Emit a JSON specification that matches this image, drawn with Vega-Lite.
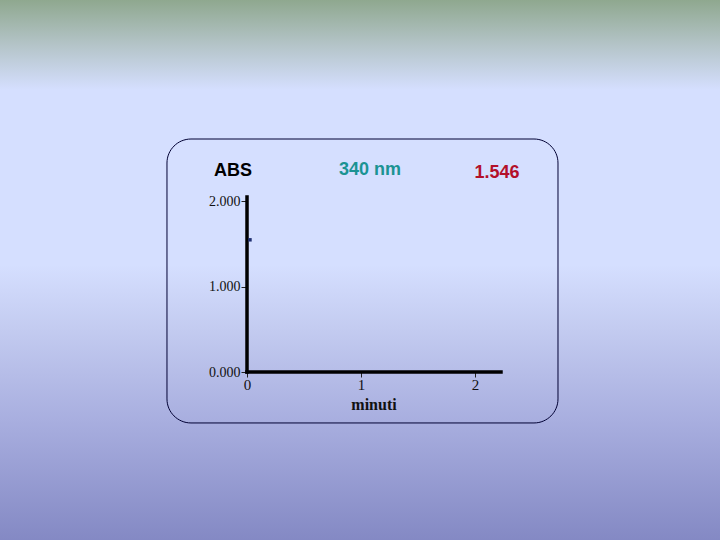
{
  "$schema": "https://vega.github.io/schema/vega-lite/v6.json",
  "width": 720,
  "height": 540,
  "padding": 0,
  "autosize": "none",
  "background": "#d5dfff",
  "config": {
    "view": {
      "stroke": null,
      "fill": {
        "gradient": "linear",
        "x1": 0, "y1": 0, "x2": 0, "y2": 1,
        "stops": [
          {"offset": 0, "color": "#8fa88f"},
          {"offset": 0.083, "color": "#b4c4c8"},
          {"offset": 0.167, "color": "#d5dfff"},
          {"offset": 0.49, "color": "#d5dfff"},
          {"offset": 0.61, "color": "#c3cbf0"},
          {"offset": 0.78, "color": "#a8aedf"},
          {"offset": 1, "color": "#8489c4"}
        ]
      }
    }
  },
  "layer": [
    {
      "data": {"values": [{"x": -0.702, "x2": 2.728, "y": 2.725, "y2": -0.596}]},
      "mark": {"type": "rect", "fill": null, "stroke": "#000033", "strokeWidth": 1, "cornerRadius": 24},
      "encoding": {
        "x": {"field": "x", "type": "quantitative", "scale": {"domain": [-2.1667, 4.1491], "nice": false, "zero": false},
          "axis": {"values": [0, 1, 2], "format": "d", "domain": false, "grid": false, "offset": -168, "tickSize": 5, "tickColor": "#222", "labelFont": "Liberation Serif", "labelFontSize": 15, "labelColor": "#111", "labelPadding": 0, "title": null}},
        "x2": {"field": "x2"},
        "y": {"field": "y", "type": "quantitative", "scale": {"domain": [-1.9649, 4.3509], "nice": false, "zero": false},
          "axis": {"values": [0, 1, 2], "format": ".3f", "domain": false, "grid": false, "offset": -247, "tickSize": 6, "tickColor": "#222", "labelFont": "Liberation Serif", "labelFontSize": 14, "labelColor": "#111", "labelPadding": 1, "title": null}},
        "y2": {"field": "y2"}
      }
    },
    {
      "data": {"values": [
        {"x": 0, "y": 0, "x2": 2.228, "y2": 0},
        {"x": 0, "y": 0, "x2": 0, "y2": 2.047}
      ]},
      "mark": {"type": "rule", "color": "#000000", "strokeWidth": 3.5, "strokeCap": "square"},
      "encoding": {
        "x": {"field": "x", "type": "quantitative"},
        "x2": {"field": "x2"},
        "y": {"field": "y", "type": "quantitative"},
        "y2": {"field": "y2"}
      }
    },
    {
      "data": {"values": [{"t": 0.026, "abs": 1.546}]},
      "mark": {"type": "square", "filled": true, "color": "#1f2f70", "size": 12, "opacity": 1},
      "encoding": {
        "x": {"field": "t", "type": "quantitative"},
        "y": {"field": "abs", "type": "quantitative"}
      }
    },
    {
      "data": {"values": [
        {"x": -0.123, "y": 2.351, "label": "ABS", "c": "ABS"},
        {"x": 1.079, "y": 2.363, "label": "340 nm", "c": "nm"},
        {"x": 2.193, "y": 2.327, "label": "1.546", "c": "val"}
      ]},
      "mark": {"type": "text", "font": "Liberation Sans", "fontSize": 18, "fontWeight": "bold", "align": "center", "baseline": "middle"},
      "encoding": {
        "x": {"field": "x", "type": "quantitative"},
        "y": {"field": "y", "type": "quantitative"},
        "text": {"field": "label"},
        "color": {"field": "c", "type": "nominal", "scale": {"domain": ["ABS", "nm", "val"], "range": ["#000000", "#1b9393", "#b3102a"]}, "legend": null}
      }
    },
    {
      "data": {"values": [{"x": 1.114, "y": -0.386, "label": "minuti"}]},
      "mark": {"type": "text", "font": "Liberation Serif", "fontSize": 16, "fontWeight": "bold", "color": "#111111", "align": "center", "baseline": "middle"},
      "encoding": {
        "x": {"field": "x", "type": "quantitative"},
        "y": {"field": "y", "type": "quantitative"},
        "text": {"field": "label"}
      }
    }
  ]
}
